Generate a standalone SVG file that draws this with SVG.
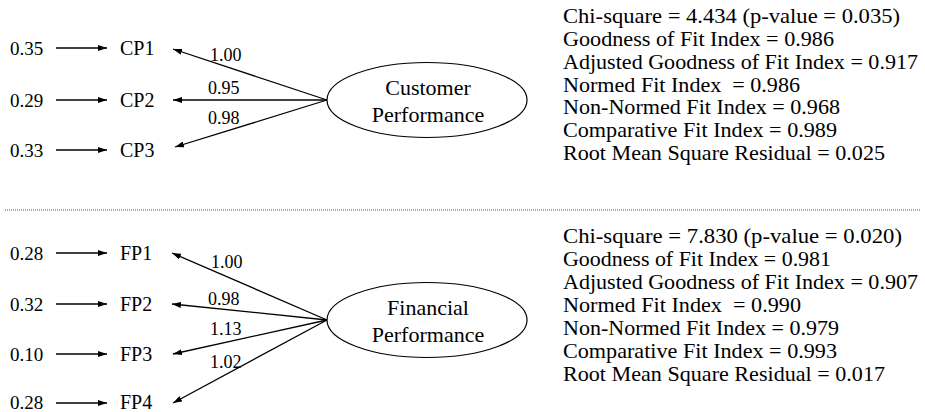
<svg xmlns="http://www.w3.org/2000/svg" width="925" height="412" viewBox="0 0 925 412" font-family="Liberation Serif, Tinos, Times New Roman, DejaVu Serif, serif">
<defs>
<marker id="ah" viewBox="0 0 9 6" refX="9" refY="3" markerWidth="9" markerHeight="6" markerUnits="userSpaceOnUse" orient="auto">
<path d="M0,0 L9,3 L0,6 Z" fill="#000"/>
</marker>
<style>
.n{font-size:19px}
.v{font-size:20px}
.l{font-size:18px}
.f{font-size:21px;white-space:pre}
.c{font-size:22px;text-anchor:middle}
.a{stroke:#000;stroke-width:1.3;fill:none;marker-end:url(#ah)}
.e{fill:#fff;stroke:#000;stroke-width:1.2}
</style>
</defs>
<g id="connectors">
<line class="a" x1="56" y1="48" x2="107" y2="48"/>
<line class="a" x1="56" y1="100" x2="107" y2="100"/>
<line class="a" x1="56" y1="150" x2="107" y2="150"/>
<line class="a" x1="327" y1="100" x2="173" y2="49"/>
<line class="a" x1="327" y1="100" x2="173" y2="100"/>
<line class="a" x1="327" y1="100" x2="175" y2="147"/>
<line class="a" x1="56" y1="253" x2="107" y2="253"/>
<line class="a" x1="56" y1="304" x2="107" y2="304"/>
<line class="a" x1="56" y1="354" x2="107" y2="354"/>
<line class="a" x1="56" y1="403" x2="107" y2="403"/>
<line class="a" x1="327" y1="320" x2="172" y2="253"/>
<line class="a" x1="327" y1="320" x2="172" y2="304"/>
<line class="a" x1="327" y1="320" x2="173" y2="354"/>
<line class="a" x1="327" y1="320" x2="173" y2="403"/>
</g>
<g id="loadings">
<text class="l" x="210" y="61">1.00</text>
<text class="l" x="208" y="94">0.95</text>
<text class="l" x="208" y="124">0.98</text>
<text class="l" x="211" y="268">1.00</text>
<text class="l" x="208" y="305">0.98</text>
<text class="l" x="210" y="335">1.13</text>
<text class="l" x="210" y="368">1.02</text>
</g>
<g id="errors">
<text class="n" x="10" y="55">0.35</text>
<text class="n" x="10" y="107">0.29</text>
<text class="n" x="10" y="157">0.33</text>
<text class="n" x="10" y="260">0.28</text>
<text class="n" x="10" y="311">0.32</text>
<text class="n" x="10" y="361">0.10</text>
<text class="n" x="10" y="409">0.28</text>
</g>
<g id="CP1"><text class="v" x="120" y="55">CP1</text></g>
<g id="CP2"><text class="v" x="120" y="107">CP2</text></g>
<g id="CP3"><text class="v" x="120" y="157">CP3</text></g>
<g id="FP1"><text class="v" x="120" y="260">FP1</text></g>
<g id="FP2"><text class="v" x="120" y="311">FP2</text></g>
<g id="FP3"><text class="v" x="120" y="361">FP3</text></g>
<g id="FP4"><text class="v" x="120" y="409">FP4</text></g>
<g id="customer-performance">
<ellipse class="e" cx="427" cy="100" rx="100" ry="37.5"/>
<text class="c" x="428" y="95">Customer</text>
<text class="c" x="428" y="122">Performance</text>
</g>
<g id="financial-performance">
<ellipse class="e" cx="427" cy="320" rx="100" ry="37.5"/>
<text class="c" x="428" y="315">Financial</text>
<text class="c" x="428" y="342">Performance</text>
</g>
<g id="fit-top">
<text class="f" x="563" y="23" textLength="337" lengthAdjust="spacingAndGlyphs">Chi-square = 4.434 (p-value = 0.035)</text>
<text class="f" x="563" y="46" textLength="271" lengthAdjust="spacingAndGlyphs">Goodness of Fit Index = 0.986</text>
<text class="f" x="563" y="69" textLength="355" lengthAdjust="spacingAndGlyphs">Adjusted Goodness of Fit Index = 0.917</text>
<text class="f" x="563" y="92" textLength="237" lengthAdjust="spacingAndGlyphs">Normed Fit Index  = 0.986</text>
<text class="f" x="563" y="114" textLength="277" lengthAdjust="spacingAndGlyphs">Non-Normed Fit Index = 0.968</text>
<text class="f" x="563" y="137" textLength="274" lengthAdjust="spacingAndGlyphs">Comparative Fit Index = 0.989</text>
<text class="f" x="563" y="160" textLength="322" lengthAdjust="spacingAndGlyphs">Root Mean Square Residual = 0.025</text>
</g>
<line id="separator" x1="5" y1="210" x2="920" y2="210" stroke="#555" stroke-width="1" stroke-dasharray="1,1"/>
<g id="fit-bottom">
<text class="f" x="563" y="243" textLength="339" lengthAdjust="spacingAndGlyphs">Chi-square = 7.830 (p-value = 0.020)</text>
<text class="f" x="563" y="266" textLength="268" lengthAdjust="spacingAndGlyphs">Goodness of Fit Index = 0.981</text>
<text class="f" x="563" y="289" textLength="355" lengthAdjust="spacingAndGlyphs">Adjusted Goodness of Fit Index = 0.907</text>
<text class="f" x="563" y="312" textLength="238" lengthAdjust="spacingAndGlyphs">Normed Fit Index  = 0.990</text>
<text class="f" x="563" y="335" textLength="276" lengthAdjust="spacingAndGlyphs">Non-Normed Fit Index = 0.979</text>
<text class="f" x="563" y="358" textLength="274" lengthAdjust="spacingAndGlyphs">Comparative Fit Index = 0.993</text>
<text class="f" x="563" y="381" textLength="322" lengthAdjust="spacingAndGlyphs">Root Mean Square Residual = 0.017</text>
</g>
</svg>
